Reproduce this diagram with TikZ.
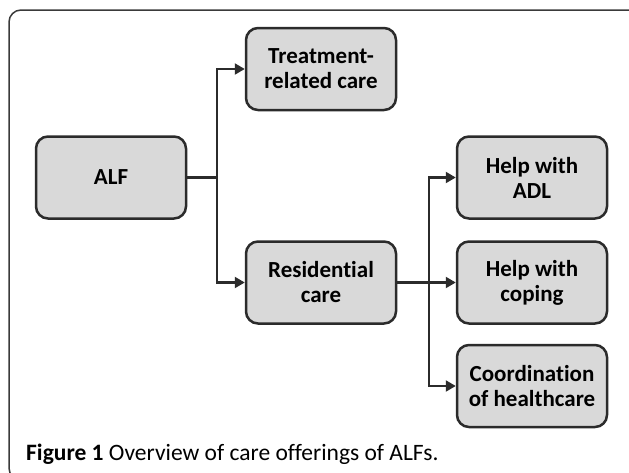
\documentclass[tikz,border=0pt]{standalone}
\usepackage{fontspec}
\setmainfont{Carlito}[Ligatures=NoCommon]
\usepackage{xcolor}
\usepackage{tikz}
\usetikzlibrary{positioning,calc,arrows.meta}

\definecolor{boxfill}{HTML}{D9D9D9}
\definecolor{boxline}{HTML}{2B2B2B}
\definecolor{framec}{HTML}{3A3A3A}

\begin{document}
\begin{tikzpicture}[
						x=1pt, y=-1pt,
						box/.style={draw=boxline, fill=boxfill, line width=2.5pt, rounded corners=12pt,
							minimum width=150pt, minimum height=82pt, align=center,
							font=\fontsize{23}{25}\selectfont\bfseries, inner sep=2pt},
						link/.style={-{Triangle[length=10pt,width=11pt]}, draw=boxline, line width=2.2pt},
						caption/.style={font=\fontsize{23.5}{26}\selectfont, anchor=base west, inner sep=0pt}
						]
						\useasboundingbox (0,0) rectangle (629,472);
						\clip (0,0) rectangle (629,472);
						% Khung ngoài
						\draw[framec, line width=1.5pt, rounded corners=12pt] (9,10) rectangle (640,480);
						
						% Các hộp
						\node[box] (alf) at (111,177.5) {ALF};
						\node[box] (treat) at (321,69) {Treatment-\\related care};
						\node[box] (resid) at (321,282.5) {Residential\\care};
						\node[box] (adl) at (532,177.5) {Help with\\ADL};
						\node[box] (coping) at (532,282.5) {Help with\\coping};
						\node[box] (coord) at (532,386) {Coordination\\of healthcare};
						
						% ALF -> 2 nhánh
						\draw[link] (alf.east) -- ++(30,0) |- (treat.west);
						\draw[link] (alf.east) -- ++(30,0) |- (resid.west);
						% Residential care -> 3 nhánh
						\draw[link] (resid.east) -- (coping.west);
						\draw[link] (resid.east) -- ++(32,0) |- (adl.west);
						\draw[link] (resid.east) -- ++(32,0) |- (coord.west);
						
						\node[caption] (cap) at (26,460) {\textbf{Figure 1} Overview of care offerings of ALFs.};
					\end{tikzpicture}
\end{document}
